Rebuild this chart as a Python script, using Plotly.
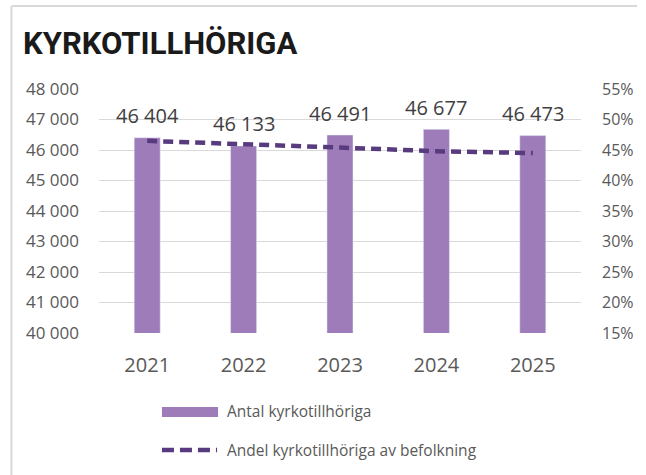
import plotly.graph_objects as go

years = ["2021", "2022", "2023", "2024", "2025"]
antal = [46404, 46133, 46491, 46677, 46473]
andel = [0.465, 0.460, 0.454, 0.448, 0.445]
bar_name = "Antal kyrkotillhöriga"
line_name = "Andel kyrkotillhöriga av befolkning"
title_text = "KYRKOTILLHÖRIGA"

W, H = 646, 475
L, R, T, B = 99, 57, 89, 142
PW, PH = W - L - R, H - T - B

def px(x):
    return (x - L) / PW

def py(y):
    return (H - B - y) / PH

BAR_COLOR = "#9e7cb9"
LINE_COLOR = "#583a7e"
TXT = "#595959"
FONT = "Open Sans"

fig = go.Figure()
fig.add_trace(go.Bar(x=years, y=antal, marker_color=BAR_COLOR, width=0.27,
                     name=bar_name, showlegend=False))
fig.add_trace(go.Scatter(x=years, y=andel, yaxis="y2", mode="lines",
                         line=dict(color=LINE_COLOR, width=4.5, dash="10px,6px"),
                         name=line_name, showlegend=False))

annotations = []
for i, v in enumerate(antal):
    annotations.append(dict(x=i, y=v, xref="x", yref="y", text=f"{v:,}".replace(",", " "),
                            showarrow=False, yanchor="middle", yshift=22,
                            font=dict(family=FONT, size=20, color="#404040")))

shapes = [
    dict(type="rect", xref="paper", yref="paper", x0=px(163), x1=px(220), y0=py(417), y1=py(407),
         fillcolor=BAR_COLOR, line=dict(width=0)),
    dict(type="line", xref="paper", yref="paper", x0=px(163), x1=px(219), y0=py(450), y1=py(450),
         line=dict(color=LINE_COLOR, width=4.5, dash="12px,6px")),
    dict(type="line", xref="paper", yref="paper", x0=px(10), x1=px(646), y0=py(6), y1=py(6),
         line=dict(color="#d9d9d9", width=2)),
    dict(type="line", xref="paper", yref="paper", x0=px(10), x1=px(10), y0=py(6), y1=py(475),
         line=dict(color="#d9d9d9", width=2)),
]
annotations.append(dict(x=px(227), y=py(411), xref="paper", yref="paper", text=bar_name,
                        showarrow=False, xanchor="left", yanchor="middle",
                        font=dict(family=FONT, size=15.5, color=TXT)))
annotations.append(dict(x=px(227), y=py(450), xref="paper", yref="paper", text=line_name,
                        showarrow=False, xanchor="left", yanchor="middle",
                        font=dict(family=FONT, size=15.5, color=TXT)))

fig.update_layout(
    width=W, height=H,
    margin=dict(l=L, r=R, t=T, b=B, pad=0),
    paper_bgcolor="white", plot_bgcolor="white",
    separators=", ",
    title=dict(text="<b>" + title_text + "</b>", xref="container", yref="container",
               x=23 / W, xanchor="left", y=1 - 43 / H, yanchor="middle",
               pad=dict(l=0, r=0, t=0, b=0),
               font=dict(family="Roboto", size=31, color="#1a1a1a")),
    xaxis=dict(type="category", range=[-0.5, 4.5], showgrid=False, showline=False, ticks="",
               ticklabelstandoff=18,
               tickfont=dict(family=FONT, size=20, color=TXT)),
    yaxis=dict(range=[40000, 48000], dtick=1000, tickformat=",d", showgrid=True,
               gridcolor="#d9d9d9", gridwidth=1, zeroline=False, showline=False,
               ticks="", ticklabelstandoff=19,
               tickfont=dict(family=FONT, size=17, color=TXT)),
    yaxis2=dict(range=[0.15, 0.55], dtick=0.05, tickformat=".0%", overlaying="y",
                side="right", showgrid=False, zeroline=False, showline=False,
                ticks="", ticklabelstandoff=20,
                tickfont=dict(family=FONT, size=16, color=TXT)),
    shapes=shapes,
    annotations=annotations,
    bargap=0.73,
)

fig.write_html("out.html", config={"displayModeBar": False},
               post_script="document.body.style.margin='0px';document.body.style.overflow='hidden';")
